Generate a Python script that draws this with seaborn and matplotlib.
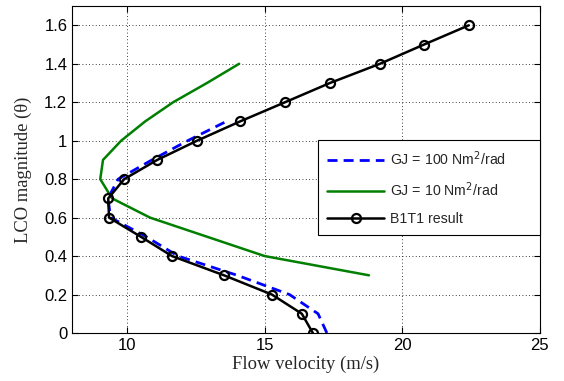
import matplotlib
matplotlib.use("Agg")
import matplotlib.pyplot as plt
import seaborn as sns
import numpy as np

# B1T1 result
b1t1_v = [16.75, 16.35, 15.26, 13.52, 11.63, 10.50, 9.34, 9.31, 9.89, 11.09, 12.54, 14.10, 15.74, 17.37, 19.19, 20.79, 22.42]
b1t1_a = [0.0, 0.1, 0.2, 0.3, 0.4, 0.5, 0.6, 0.7, 0.8, 0.9, 1.0, 1.1, 1.2, 1.3, 1.4, 1.5, 1.6]

# GJ = 100
gj100_v = [17.26, 16.94, 15.9, 14.0, 11.85, 10.7, 9.4, 9.3, 9.67, 10.9, 12.2, 13.6]
gj100_a = [0.0, 0.1, 0.2, 0.3, 0.4, 0.5, 0.6, 0.7, 0.8, 0.9, 1.0, 1.1]

# GJ = 10
gj10_v = [18.79, 15.0, 10.83, 9.45, 9.02, 9.12, 9.78, 10.65, 11.67, 12.9, 14.07]
gj10_a = [0.3, 0.4, 0.6, 0.7, 0.8, 0.9, 1.0, 1.1, 1.2, 1.3, 1.4]

x_ticks = [10, 15, 20, 25]
y_ticks = [0, 0.2, 0.4, 0.6, 0.8, 1.0, 1.2, 1.4, 1.6]
y_tick_labels = ["0", "0.2", "0.4", "0.6", "0.8", "1", "1.2", "1.4", "1.6"]

sns.set_style("ticks")
plt.rcParams['font.family'] = ['Liberation Sans', 'DejaVu Sans']

fig = plt.figure(figsize=(5.64, 3.81), dpi=100)
ax = fig.add_axes([0.128, 0.126, 0.829, 0.858])

sns.lineplot(x=gj100_v, y=gj100_a, sort=False, estimator=None, ax=ax,
             color="#0000ff", linewidth=2.0, linestyle=(0, (3.6, 2.2)),
             label="GJ = 100 Nm$^2$/rad")
sns.lineplot(x=gj10_v, y=gj10_a, sort=False, estimator=None, ax=ax,
             color="#007f00", linewidth=1.8, label="GJ = 10 Nm$^2$/rad")
sns.lineplot(x=b1t1_v, y=b1t1_a, sort=False, estimator=None, ax=ax,
             color="black", linewidth=1.8, marker="o", markersize=6.5,
             markerfacecolor="none", markeredgecolor="black", markeredgewidth=1.6,
             label="B1T1 result")

ax.set_xlim(8, 25)
ax.set_ylim(0, 1.7)
ax.set_xticks(x_ticks)
ax.set_xticklabels([str(t) for t in x_ticks])
ax.set_yticks(y_ticks)
ax.set_yticklabels(y_tick_labels)
ax.tick_params(direction="in", top=True, right=True, labelsize=12, length=4, width=0.8, colors="black")
ax.grid(True, color="black", linestyle=(0, (1, 3)), linewidth=0.6)
for s in ax.spines.values():
    s.set_visible(True)
    s.set_color("black")
    s.set_linewidth(0.8)

ax.set_xlabel("Flow velocity (m/s)", family=["Liberation Serif"], fontsize=13.4, labelpad=2)
ax.set_ylabel("LCO magnitude (\u03b8)", family=["Liberation Serif"], fontsize=13.4, labelpad=9)

leg = ax.legend(loc="upper right", bbox_to_anchor=(0.526, 0.309, 0.474, 0.281),
                mode="expand", borderaxespad=0, fontsize=10.2,
                frameon=True, fancybox=False, edgecolor="black", framealpha=1,
                handlelength=4.0, borderpad=0.65, labelspacing=0.9, handletextpad=0.45)
leg.get_frame().set_linewidth(0.8)

fig.savefig("out.png", dpi=100)
